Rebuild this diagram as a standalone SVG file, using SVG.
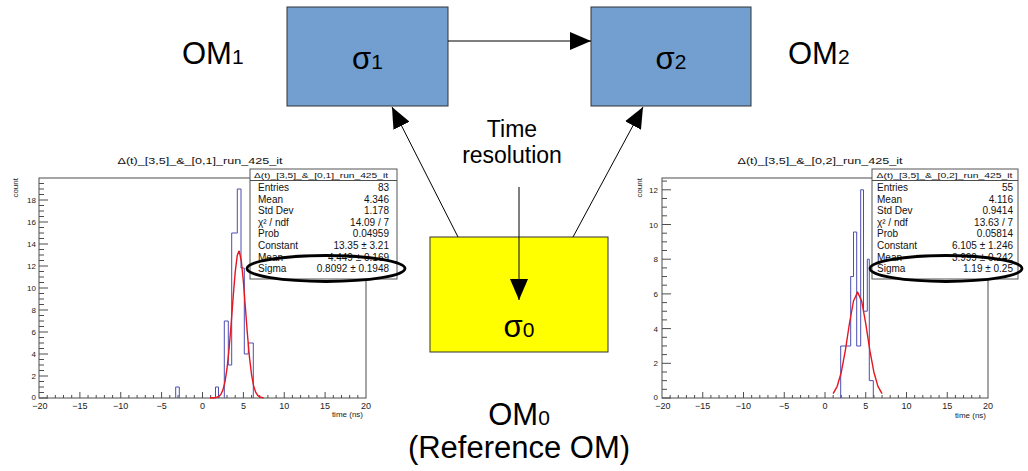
<svg xmlns="http://www.w3.org/2000/svg" width="1028" height="471" viewBox="0 0 1028 471">
  <defs>
    <style>
      text { font-family: "Liberation Sans", Arial, sans-serif; fill: #000; }
      .big { font-size: 31px; }
      .mid { font-size: 23px; }
      .sub { font-size: 21px; }
      .node { stroke: #333; stroke-width: 1; }
      .blue { fill: #729fcf; }
      .yellow { fill: #ffff00; }
      .conn { stroke: #000; stroke-width: 1; fill: none; marker-end: url(#head); }
      .frame { fill: none; stroke: #4d4d4d; stroke-width: 1; }
      .tick { fill: none; stroke: #4d4d4d; stroke-width: 1; }
      .ylab { font-size: 8px; fill: #222; text-anchor: end; }
      .xlab { font-size: 9px; fill: #222; text-anchor: middle; }
      .axtitle { font-size: 8px; fill: #222; }
      .ptitle { font-size: 9.5px; fill: #111; text-anchor: middle; }
      .hist { fill: none; stroke: #4c4cb4; stroke-width: 1; }
      .fit { fill: none; stroke: #e5161e; stroke-width: 1.4; stroke-linejoin: round; }
      .sbox { fill: #fff; stroke: #555; stroke-width: 1; }
      .stitle { font-size: 8px; fill: #111; text-anchor: middle; }
      .srow { font-size: 10px; fill: #111; }
      .sval { font-size: 10px; fill: #111; text-anchor: end; }
      .ring { fill: none; stroke: #000; stroke-width: 2.8; }
    </style>
    <marker id="head" viewBox="0 0 21 18" refX="21" refY="9" markerWidth="21" markerHeight="18" markerUnits="userSpaceOnUse" orient="auto">
      <path d="M0,0 L21,9 L0,18 z" fill="#000"/>
    </marker>
  </defs>
  <rect width="1028" height="471" fill="#fff"/>

  <!-- left histogram: OM1 vs reference -->
  <g id="plot-om1">
    <text class="ptitle" x="200" y="164" textLength="165" lengthAdjust="spacingAndGlyphs">Δ(t)_[3,5]_&amp;_[0,1]_run_425_it</text>
    <rect class="frame" x="39" y="178" width="327" height="220"/>
    <path class="tick" d="M39,398h9M39,376h9M39,354h9M39,332h9M39,310h9M39,288h9M39,266h9M39,244h9M39,222h9M39,200h9
      M39,392.5h5M39,387h5M39,381.5h5M39,370.5h5M39,365h5M39,359.5h5M39,348.5h5M39,343h5M39,337.5h5M39,326.5h5M39,321h5M39,315.5h5
      M39,304.5h5M39,299h5M39,293.5h5M39,282.5h5M39,277h5M39,271.5h5M39,260.5h5M39,255h5M39,249.5h5M39,238.5h5M39,233h5M39,227.5h5
      M39,216.5h5M39,211h5M39,205.5h5M39,194.5h5M39,189h5M39,183.5h5
      M79.9,398v-6M120.75,398v-6M161.6,398v-6M202.5,398v-6M243.4,398v-6M284.25,398v-6M325.1,398v-6
      M47.2,398v-3M55.35,398v-3M63.5,398v-3M71.7,398v-3M88.05,398v-3M96.2,398v-3M104.4,398v-3M112.6,398v-3
      M128.9,398v-3M137.1,398v-3M145.3,398v-3M153.45,398v-3M169.8,398v-3M178,398v-3M186.15,398v-3M194.3,398v-3
      M210.7,398v-3M218.85,398v-3M227,398v-3M235.2,398v-3M251.55,398v-3M259.7,398v-3M267.9,398v-3M276.1,398v-3
      M292.4,398v-3M300.6,398v-3M308.8,398v-3M316.95,398v-3M333.3,398v-3M341.5,398v-3M349.65,398v-3M357.8,398v-3"/>
    <text class="ylab" x="36" y="399.5">0</text>
    <text class="ylab" x="36" y="379">2</text>
    <text class="ylab" x="36" y="357">4</text>
    <text class="ylab" x="36" y="335">6</text>
    <text class="ylab" x="36" y="313">8</text>
    <text class="ylab" x="36" y="291">10</text>
    <text class="ylab" x="36" y="269">12</text>
    <text class="ylab" x="36" y="247">14</text>
    <text class="ylab" x="36" y="225">16</text>
    <text class="ylab" x="36" y="203">18</text>
    <text class="xlab" x="40" y="409">−20</text>
    <text class="xlab" x="79.9" y="409">−15</text>
    <text class="xlab" x="120.75" y="409">−10</text>
    <text class="xlab" x="161.6" y="409">−5</text>
    <text class="xlab" x="202.5" y="409">0</text>
    <text class="xlab" x="243.4" y="409">5</text>
    <text class="xlab" x="284.25" y="409">10</text>
    <text class="xlab" x="325.1" y="409">15</text>
    <text class="xlab" x="366" y="409">20</text>
    <text class="axtitle" x="363" y="417" text-anchor="end">time (ns)</text>
    <text class="axtitle" transform="translate(18,178) rotate(-90)" text-anchor="end" font-size="6.5">count</text>
    <path class="hist" d="M175.7,398V387H179.3V398M215.5,398V387H218.5V398M224.3,398V321H228.3V365H231.7V233H237.3V189H241V268H244.3V354H248.3V343H253.3V398"/>
    <polyline class="fit" points="210,398 214.76,397.8 218.85,396.5 220.9,394.3 222.94,389.9 224.98,381.8 227.03,368.45 229.07,349 231.11,324.2 233.16,296.9 235.2,272.1 237.24,255.5 238.87,251.15 239.29,251.4 241.33,261 243.38,281.5 245.42,308 247.46,334.8 249.51,357.7 251.55,374.6 253.59,385.7 255.64,392.1 257.68,395.4 259.73,397 263.8,397.9"/>
    <g id="stats-om1">
      <rect class="sbox" x="250" y="169" width="147" height="110"/>
      <path class="tick" d="M250,180.5H397"/>
      <text class="stitle" x="321" y="178" textLength="134" lengthAdjust="spacingAndGlyphs">Δ(t)_[3,5]_&amp;_[0,1]_run_425_it</text>
      <text class="srow" x="258" y="191">Entries</text><text class="sval" x="389" y="191">83</text>
      <text class="srow" x="258" y="202.6">Mean</text><text class="sval" x="389" y="202.6">4.346</text>
      <text class="srow" x="258" y="214.2">Std Dev</text><text class="sval" x="389" y="214.2">1.178</text>
      <text class="srow" x="258" y="225.8">χ² / ndf</text><text class="sval" x="389" y="225.8">14.09 / 7</text>
      <text class="srow" x="258" y="237.4">Prob</text><text class="sval" x="389" y="237.4">0.04959</text>
      <text class="srow" x="258" y="249">Constant</text><text class="sval" x="389" y="249">13.35 ± 3.21</text>
      <text class="srow" x="258" y="260.6">Mean</text><text class="sval" x="389" y="260.6">4.449 ± 0.169</text>
      <text class="srow" x="258" y="272.2">Sigma</text><text class="sval" x="389" y="272.2">0.8092 ± 0.1948</text>
    </g>
    <ellipse class="ring" cx="326" cy="268.5" rx="79" ry="13"/>
  </g>

  <!-- right histogram: OM2 vs reference -->
  <g id="plot-om2">
    <text class="ptitle" x="820" y="164" textLength="165" lengthAdjust="spacingAndGlyphs">Δ(t)_[3,5]_&amp;_[0,2]_run_425_it</text>
    <rect class="frame" x="662" y="178" width="326" height="220"/>
    <path class="tick" d="M662,398h9M662,363.3h9M662,328.6h9M662,293.9h9M662,259.2h9M662,224.5h9M662,189.8h9
      M662,389.3h5M662,380.65h5M662,372h5M662,354.6h5M662,345.95h5M662,337.3h5M662,319.9h5M662,311.25h5M662,302.6h5
      M662,285.2h5M662,276.55h5M662,267.9h5M662,250.5h5M662,241.85h5M662,233.2h5M662,215.8h5M662,207.15h5M662,198.5h5M662,181.1h5
      M702.75,398v-6M743.5,398v-6M784.25,398v-6M825,398v-6M865.75,398v-6M906.5,398v-6M947.25,398v-6
      M670.15,398v-3M678.3,398v-3M686.45,398v-3M694.6,398v-3M710.9,398v-3M719.05,398v-3M727.2,398v-3M735.35,398v-3
      M751.65,398v-3M759.8,398v-3M767.95,398v-3M776.1,398v-3M792.4,398v-3M800.55,398v-3M808.7,398v-3M816.85,398v-3
      M833.15,398v-3M841.3,398v-3M849.45,398v-3M857.6,398v-3M873.9,398v-3M882.05,398v-3M890.2,398v-3M898.35,398v-3
      M914.65,398v-3M922.8,398v-3M930.95,398v-3M939.1,398v-3M955.4,398v-3M963.55,398v-3M971.7,398v-3M979.85,398v-3"/>
    <text class="ylab" x="658" y="399.5">0</text>
    <text class="ylab" x="658" y="366.3">2</text>
    <text class="ylab" x="658" y="331.6">4</text>
    <text class="ylab" x="658" y="296.9">6</text>
    <text class="ylab" x="658" y="262.2">8</text>
    <text class="ylab" x="658" y="227.5">10</text>
    <text class="ylab" x="658" y="192.8">12</text>
    <text class="xlab" x="663" y="409">−20</text>
    <text class="xlab" x="702.75" y="409">−15</text>
    <text class="xlab" x="743.5" y="409">−10</text>
    <text class="xlab" x="784.25" y="409">−5</text>
    <text class="xlab" x="825" y="409">0</text>
    <text class="xlab" x="865.75" y="409">5</text>
    <text class="xlab" x="906.5" y="409">10</text>
    <text class="xlab" x="947.25" y="409">15</text>
    <text class="xlab" x="988" y="409">20</text>
    <text class="axtitle" x="986" y="418" text-anchor="end">time (ns)</text>
    <text class="axtitle" transform="translate(642,178) rotate(-90)" text-anchor="end" font-size="6.5">count</text>
    <path class="hist" d="M840.7,398V346H850.7V276.5H853.5V232H856.7V346H860.7V189.8H863.5V311.2H867.3V259.2H869.3V380.6H873.3V398"/>
    <polyline class="fit" points="833.15,393.6 837.2,386.3 841.3,372.2 845.4,350.1 849.45,323.5 853.5,301 857.6,292.1 861.7,301.1 865.75,323.6 869.8,350.2 873.9,372.2 877.95,386.4 882.05,393.6"/>
    <g id="stats-om2">
      <rect class="sbox" x="872" y="169" width="146" height="110"/>
      <path class="tick" d="M872,180.5H1018"/>
      <text class="stitle" x="944.5" y="178" textLength="136" lengthAdjust="spacingAndGlyphs">Δ(t)_[3,5]_&amp;_[0,2]_run_425_it</text>
      <text class="srow" x="877" y="191">Entries</text><text class="sval" x="1013" y="191">55</text>
      <text class="srow" x="877" y="202.6">Mean</text><text class="sval" x="1013" y="202.6">4.116</text>
      <text class="srow" x="877" y="214.2">Std Dev</text><text class="sval" x="1013" y="214.2">0.9414</text>
      <text class="srow" x="877" y="225.8">χ² / ndf</text><text class="sval" x="1013" y="225.8">13.63 / 7</text>
      <text class="srow" x="877" y="237.4">Prob</text><text class="sval" x="1013" y="237.4">0.05814</text>
      <text class="srow" x="877" y="249">Constant</text><text class="sval" x="1013" y="249">6.105 ± 1.246</text>
      <text class="srow" x="877" y="260.6">Mean</text><text class="sval" x="1013" y="260.6">3.999 ± 0.242</text>
      <text class="srow" x="877" y="272.2">Sigma</text><text class="sval" x="1013" y="272.2">1.19 ± 0.25</text>
    </g>
    <ellipse class="ring" cx="946" cy="268.5" rx="76" ry="13"/>
  </g>

  <!-- optical module nodes -->
  <g id="node-om1">
    <rect class="node blue" x="287" y="7" width="161" height="99"/>
    <text class="big" x="367.5" y="69" text-anchor="middle">σ<tspan class="sub">1</tspan></text>
  </g>
  <g id="node-om2">
    <rect class="node blue" x="591" y="7" width="160" height="99"/>
    <text class="big" x="671" y="69" text-anchor="middle">σ<tspan class="sub">2</tspan></text>
  </g>
  <g id="node-om0">
    <rect class="node yellow" x="430" y="237" width="178" height="115"/>
    <text class="big" x="519" y="337" text-anchor="middle">σ<tspan class="sub">0</tspan></text>
  </g>

  <!-- free labels -->
  <g id="labels">
    <text class="big" x="182" y="64">OM<tspan class="sub">1</tspan></text>
    <text class="big" x="788" y="64">OM<tspan class="sub">2</tspan></text>
    <text class="mid" x="512" y="137" text-anchor="middle">Time</text>
    <text class="mid" x="512" y="163" text-anchor="middle">resolution</text>
    <text class="big" x="519" y="425" text-anchor="middle">OM<tspan class="sub">0</tspan></text>
    <text class="big" x="519" y="458" text-anchor="middle">(Reference OM)</text>
  </g>

  <!-- connectors -->
  <g id="connectors">
    <line class="conn" x1="448" y1="41" x2="591" y2="41"/>
    <line class="conn" x1="458" y1="237" x2="392" y2="107"/>
    <line class="conn" x1="573" y1="237" x2="643" y2="107"/>
    <line class="conn" x1="519" y1="187" x2="519" y2="300"/>
  </g>
</svg>
